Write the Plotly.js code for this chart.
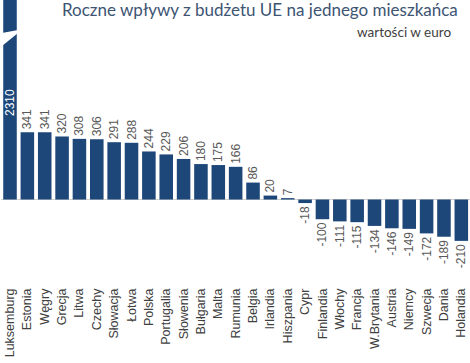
<!DOCTYPE html>
<html>
<head>
<meta charset="utf-8">
<script src="https://cdn.plot.ly/plotly-3.0.1.min.js"></script>
<style>html,body{margin:0;padding:0;background:#fff;}</style>
</head>
<body>
<div id="chart" style="width:470px;height:363px;"></div>
<script>
var countries = ["Luksemburg","Estonia","Węgry","Grecja","Litwa","Czechy","Słowacja","Łotwa","Polska","Portugalia","Słowenia","Bułgaria","Malta","Rumunia","Belgia","Irlandia","Hiszpania","Cypr","Finlandia","Włochy","Francja","W.Brytania","Austria","Niemcy","Szwecja","Dania","Holandia"];
var values = [2310,341,341,320,308,306,291,288,244,229,206,180,175,166,86,20,7,-18,-100,-111,-115,-134,-146,-149,-172,-189,-210];
var titleText = "Roczne wpływy z budżetu UE na jednego mieszkańca";
var subtitleText = "wartości w euro";

var W = 470, H = 363, mT = 0, mB = 78, mL = 1, mR = 0;
var plotH = H - mT - mB, plotW = W - mL - mR;
function py(px){ return 1 - (px - mT)/plotH; }
function pxX(px){ return (px - mL)/plotW; }

var trace = {
  type: 'bar',
  x: countries,
  y: values,
  marker: {color: '#1d4679'},
  text: values.map(function(v){ return String(v); }),
  textposition: values.map(function(v,i){ return i === 0 ? 'none' : 'outside'; }),
  textangle: -90,
  outsidetextfont: {family: 'Liberation Sans, Arial, sans-serif', size: 12, color: '#595959'},
  constraintext: 'none',
  cliponaxis: false,
  hoverinfo: 'none'
};

var layout = {
  width: W, height: H,
  margin: {l: mL, r: mR, t: mT, b: mB, pad: 0},
  paper_bgcolor: '#ffffff',
  plot_bgcolor: '#ffffff',
  showlegend: false,
  bargap: 0.22,
  title: {
    text: titleText,
    font: {family: 'Lato, Carlito, sans-serif', size: 17, color: '#3d5473'},
    x: 62/W, xanchor: 'left', xref: 'container',
    y: 1 - 4/H, yanchor: 'top', yref: 'container'
  },
  xaxis: {
    type: 'category',
    tickangle: -90,
    tickfont: {family: 'Liberation Sans, Arial, sans-serif', size: 12.5, color: '#404040'},
    showline: false, ticks: '', showgrid: false, zeroline: false,
    fixedrange: true
  },
  yaxis: {
    range: [-434, 1013],
    showticklabels: false, showgrid: false, ticks: '',
    zeroline: true, zerolinecolor: '#d0d0d0', zerolinewidth: 1,
    fixedrange: true
  },
  annotations: [
    {
      text: subtitleText, xref: 'paper', yref: 'paper',
      x: pxX(453), y: py(22), xanchor: 'right', yanchor: 'top', showarrow: false,
      font: {family: 'Lato, Carlito, sans-serif', size: 13.5, color: '#404040'}
    },
    {
      text: String(values[0]), xref: 'x', yref: 'y',
      x: countries[0], y: 490, textangle: -90, showarrow: false,
      font: {family: 'Liberation Sans, Arial, sans-serif', size: 12, color: '#ffffff'}
    }
  ],
  shapes: [
    {
      type: 'path', xref: 'paper', yref: 'paper', layer: 'above',
      path: 'M ' + pxX(2) + ',' + py(33) + ' L ' + pxX(18) + ',' + py(30) +
            ' L ' + pxX(18) + ',' + py(33) + ' L ' + pxX(2) + ',' + py(46) + ' Z',
      fillcolor: '#ffffff', line: {width: 0}
    }
  ]
};

Plotly.newPlot('chart', [trace], layout, {displayModeBar: false, staticPlot: true});
</script>
</body>
</html>
